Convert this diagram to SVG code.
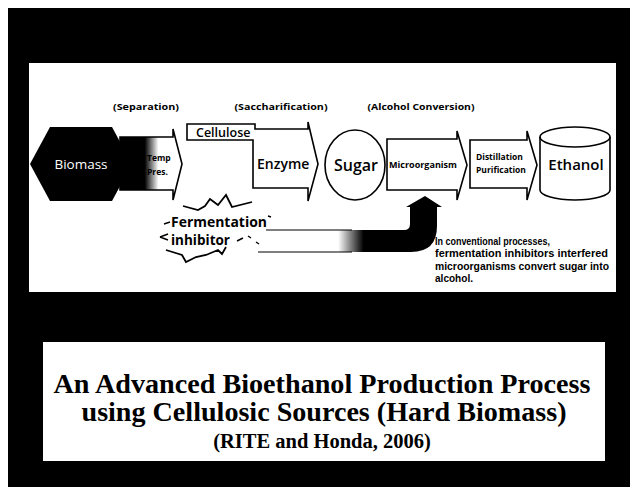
<svg xmlns="http://www.w3.org/2000/svg" width="630" height="487" viewBox="0 0 630 487">
<defs>
<style>
.lbl{font-family:"Open Sans","Noto Sans","DejaVu Sans",sans-serif;fill:#000}
.sm{font-family:"Open Sans","Noto Sans",sans-serif;font-weight:700;font-size:8.5px;fill:#000}
.stage{font-family:"Open Sans","Noto Sans",sans-serif;font-weight:700;font-size:9.5px;fill:#000;text-anchor:middle}
.shape{fill:#fff;stroke:#000;stroke-width:1.6;stroke-linejoin:miter}
.note{font-family:"Liberation Sans","Arial",sans-serif;font-weight:700;font-size:10px;fill:#000}
.title{font-family:"Liberation Serif","Times New Roman",serif;font-weight:700;fill:#000;text-anchor:middle}
.burst{fill:none;stroke:#000;stroke-width:1.8;stroke-linejoin:miter}
</style>
<linearGradient id="sepGrad" x1="120" y1="0" x2="182" y2="0" gradientUnits="userSpaceOnUse">
<stop offset="0" stop-color="#000"/>
<stop offset="0.4" stop-color="#000"/>
<stop offset="0.62" stop-color="#fff"/>
<stop offset="1" stop-color="#fff"/>
</linearGradient>
<linearGradient id="bandGrad" x1="258" y1="0" x2="440" y2="0" gradientUnits="userSpaceOnUse">
<stop offset="0" stop-color="#fff"/>
<stop offset="0.44" stop-color="#fff"/>
<stop offset="0.58" stop-color="#000"/>
<stop offset="1" stop-color="#000"/>
</linearGradient>
</defs>
<rect x="0" y="0" width="630" height="487" fill="#fff"/>
<rect x="8" y="8" width="622" height="479" fill="#000"/>
<rect x="29" y="63" width="587" height="229" fill="#fff"/>
<rect x="43" y="342" width="562" height="119" fill="#fff"/>

<g id="stage-labels">
<text class="stage" x="146" y="110" textLength="66" lengthAdjust="spacingAndGlyphs">(Separation)</text>
<text class="stage" x="281" y="110" textLength="93" lengthAdjust="spacingAndGlyphs">(Saccharification)</text>
<text class="stage" x="421" y="110" textLength="107" lengthAdjust="spacingAndGlyphs">(Alcohol Conversion)</text>
</g>

<g id="connectors">
<path d="M258,230 L404,230 Q410,230 410,224 L410,207 L406,207 L425,196 L442,207 L437,207 L437,226 Q437,252 411,252 L258,252 Z" fill="url(#bandGrad)"/>
<line x1="266" y1="230" x2="352" y2="230" stroke="#000" stroke-width="1.2"/>
<line x1="258" y1="252" x2="352" y2="252" stroke="#000" stroke-width="1.2"/>
</g>

<g id="biomass">
<polygon points="30,164 50,127 112,127 132,164 112,201 50,201" fill="#000"/>
<text class="lbl" x="81" y="169" font-size="13.5" style="fill:#fff" text-anchor="middle">Biomass</text>
</g>

<g id="separation">
<path d="M120,137 L173,137 L173,129 L182,164 L173,200 L173,190 L120,190 Z" fill="url(#sepGrad)" stroke="#000" stroke-width="1.6"/>
<text class="sm" x="147" y="161" font-size="9">Temp</text>
<text class="sm" x="147" y="175" font-size="9">Pres.</text>
</g>

<g id="enzyme">
<path class="shape" d="M187,124 L255,124 L255,129 L308,129 L308,122 L318,164 L308,201 L308,188 L253,188 L253,140 L187,140 Z"/>
<text class="lbl" x="196" y="137" font-size="12.5" font-weight="600">Cellulose</text>
<text class="lbl" x="257" y="169" font-size="14" font-weight="600">Enzyme</text>
</g>

<g id="sugar">
<ellipse class="shape" cx="355" cy="165" rx="30" ry="35"/>
<text class="lbl" x="356" y="171" font-size="16" font-weight="600" text-anchor="middle">Sugar</text>
</g>

<g id="microorganism">
<path class="shape" d="M387,139 L457,139 L457,131 L467,165 L457,200 L457,190 L387,190 Z"/>
<text class="sm" x="423" y="168" font-size="8.5" text-anchor="middle" textLength="68" lengthAdjust="spacingAndGlyphs">Microorganism</text>
</g>

<g id="distillation">
<path class="shape" d="M470,140 L527,140 L527,131 L537,165 L527,200 L527,188 L470,188 Z"/>
<text class="sm" x="476" y="160" font-size="8">Distillation</text>
<text class="sm" x="476" y="173" font-size="8">Purification</text>
</g>

<g id="ethanol">
<path class="shape" d="M540,137 A35,10 0 0 1 610,137 L610,190 A35,10 0 0 1 540,190 Z"/>
<path d="M540,137 A35,10 0 0 0 610,137" fill="none" stroke="#000" stroke-width="1.6"/>
<text class="lbl" x="576" y="170" font-size="15" font-weight="600" text-anchor="middle">Ethanol</text>
</g>

<g id="inhibitor">
<polyline class="burst" points="183,206 198,210 205,206 210,199 218,205 226,195 232,207 252,202"/>
<polyline class="burst" points="166,250 182,255 186,262 196,257 206,255 218,250 222,254 226,247"/>
<path d="M164,224 L170,222 M160,237 L168,234 M160,237 L168,240 M237,241 L243,238 M248,236 L251,238 M256,242 L259,244 M268,216 L271,217" stroke="#000" stroke-width="1.4" fill="none"/>
<text class="lbl" x="171" y="227" font-size="14" font-weight="700" textLength="96" lengthAdjust="spacingAndGlyphs">Fermentation</text>
<text class="lbl" x="171" y="245" font-size="14" font-weight="700" textLength="59" lengthAdjust="spacingAndGlyphs">inhibitor</text>
</g>

<g id="note">
<text class="note" x="435" y="245" textLength="115" lengthAdjust="spacingAndGlyphs">In conventional processes,</text>
<text class="note" x="435" y="257" textLength="173" lengthAdjust="spacingAndGlyphs">fermentation inhibitors interfered</text>
<text class="note" x="435" y="270" textLength="174" lengthAdjust="spacingAndGlyphs">microorganisms convert sugar into</text>
<text class="note" x="435" y="282" textLength="38" lengthAdjust="spacingAndGlyphs">alcohol.</text>
</g>

<g id="title">
<text class="title" x="322" y="393" font-size="28" textLength="537" lengthAdjust="spacingAndGlyphs">An Advanced Bioethanol Production Process</text>
<text class="title" x="324" y="421" font-size="28" textLength="485" lengthAdjust="spacingAndGlyphs">using Cellulosic Sources (Hard Biomass)</text>
<text class="title" x="322" y="448" font-size="20.5">(RITE and Honda, 2006)</text>
</g>
</svg>
